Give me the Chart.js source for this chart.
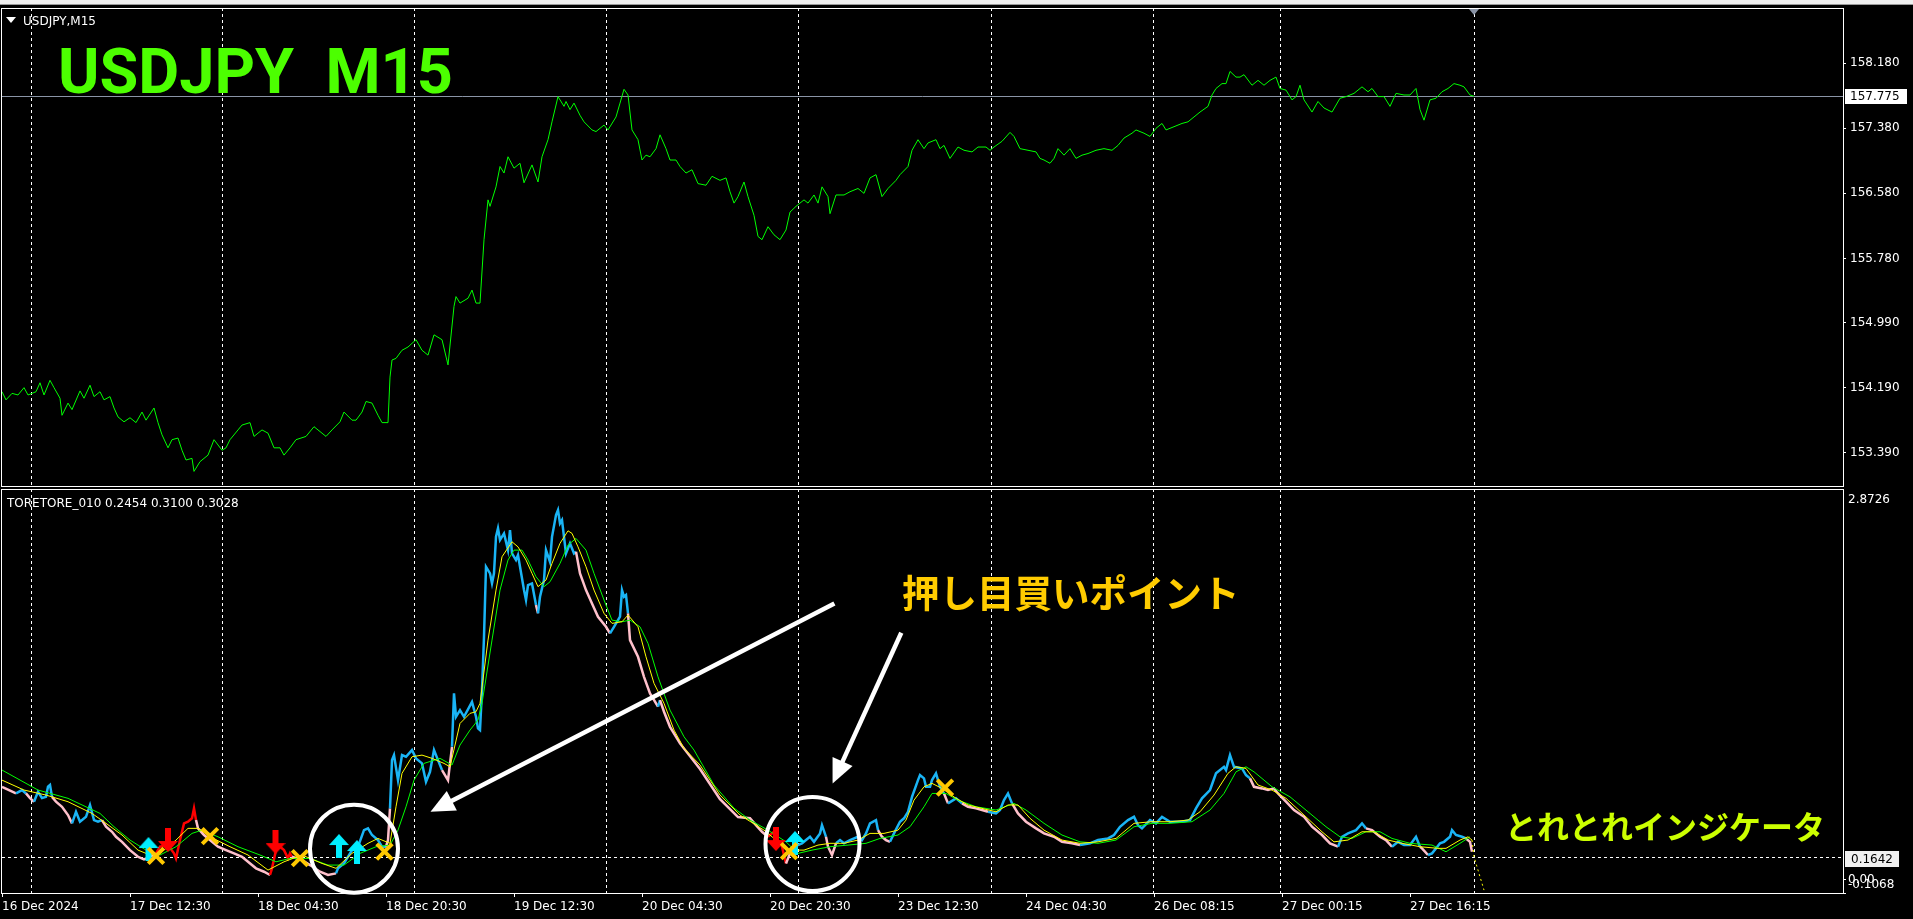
<!DOCTYPE html>
<html>
<head>
<meta charset="utf-8">
<script src="https://cdn.jsdelivr.net/npm/chart.js@4.4.1/dist/chart.umd.min.js"></script>
<style>
body { margin: 0; background: #000; overflow: hidden; }
#wrap { position: relative; width: 1913px; height: 919px; background: #000; }
#topbar { position: absolute; left: 0; top: 0; width: 1913px; height: 4px; background: #f0f0f0; border-bottom: 1px solid #9a9a9a; }
canvas { position: absolute; left: 0; }
.lbl { position: absolute; white-space: pre; line-height: 1; }
</style>
</head>
<body>
<div id="wrap">
    <div id="topbar"></div>
    <canvas id="priceChart" width="1913" height="490" style="top:0"></canvas>
    <canvas id="indChart" width="1913" height="431" style="top:488px"></canvas>

    <div style="position:absolute;left:6px;top:17px;width:0;height:0;border-left:5px solid transparent;border-right:5px solid transparent;border-top:6px solid #fff"></div>
    <div class="lbl" style="left:23px;top:14px;color:#fff;font:12px 'DejaVu Sans'">USDJPY,M15</div>
    <div class="lbl" style="left:58px;top:35px;color:#4cff00;font:bold 63px Roboto">USDJPY  M15</div>
    <div class="lbl" style="left:7px;top:496px;color:#fff;font:12px 'DejaVu Sans'">TORETORE_010 0.2454 0.3100 0.3028</div>
    <div class="lbl" style="left:902px;top:563px;color:#ffcc00;font:bold 37.5px 'Noto Sans CJK JP'">押し目買いポイント</div>
    <div class="lbl" style="left:1505px;top:802px;color:#ccff00;font:bold 32px 'Noto Sans CJK JP'">とれとれインジケータ</div>
</div>
<script>
// bar index -> date labels on the time axis (M15 bars)
const tickBars = [0, 64, 128, 192, 256, 320, 384, 448, 512, 576, 640, 704];
const tickLabels = ['16 Dec 2024', '17 Dec 12:30', '18 Dec 04:30', '18 Dec 20:30', '19 Dec 12:30', '20 Dec 04:30',
    '20 Dec 20:30', '23 Dec 12:30', '24 Dec 04:30', '26 Dec 08:15', '27 Dec 00:15', '27 Dec 16:15'];
const gridBars = [14.3, 110, 206, 302, 398, 494.5, 575.5, 639, 736];
const xMin = 0;
const xMax = 920.5;

// price panel
const priceTicks = [158.18, 157.38, 156.58, 155.78, 154.99, 154.19, 153.39];
const priceMin = 152.968;
const priceMax = 158.86;
const priceSeries = [
    [0,154.14],[2,154.04],[5,154.12],[8,154.10],[11,154.19],[13,154.10],[17,154.14],[19,154.25],[21,154.10],[24,154.28],
    [26,154.19],[29,154.06],[30,153.85],[33,154.00],[35,153.92],[39,154.15],[41,154.06],[44,154.22],[46,154.08],[49,154.14],
    [51,154.04],[54,154.08],[56,153.94],[58,153.83],[61,153.77],[64,153.82],[67,153.76],[70,153.89],[72,153.79],[76,153.94],
    [78,153.76],[80,153.61],[83,153.45],[85,153.55],[88,153.57],[90,153.42],[92,153.30],[95,153.32],[96,153.16],[99,153.28],
    [103,153.36],[106,153.55],[110,153.42],[112,153.45],[114,153.55],[118,153.67],[120,153.73],[124,153.76],[126,153.59],[130,153.67],
    [133,153.63],[136,153.45],[139,153.45],[141,153.36],[144,153.45],[147,153.55],[152,153.59],[156,153.71],[162,153.59],[165,153.67],
    [169,153.77],[171,153.89],[175,153.79],[177,153.79],[180,153.89],[182,154.02],[185,154.00],[188,153.85],[190,153.76],[193,153.76],
    [194,154.32],[195,154.53],[197,154.55],[200,154.65],[203,154.69],[207,154.78],[210,154.65],[213,154.59],[216,154.84],[220,154.78],
    [223,154.47],[226,155.19],[227,155.31],[229,155.23],[233,155.29],[235,155.39],[237,155.23],[239,155.23],[241,156.01],[243,156.50],
    [244,156.42],[247,156.66],[249,156.91],[251,156.83],[253,157.03],[256,156.89],[259,156.95],[261,156.71],[265,156.93],[268,156.72],
    [270,157.03],[273,157.24],[275,157.46],[278,157.77],[281,157.65],[282,157.71],[284,157.61],[286,157.69],[289,157.54],[291,157.46],
    [295,157.36],[297,157.34],[301,157.42],[303,157.36],[307,157.52],[309,157.69],[311,157.86],[313,157.79],[315,157.36],[318,157.24],
    [320,156.99],[322,157.05],[324,157.03],[327,157.13],[329,157.30],[332,157.13],[334,156.99],[337,156.99],[339,156.91],[342,156.83],
    [345,156.87],[348,156.70],[352,156.68],[355,156.79],[359,156.74],[362,156.77],[364,156.60],[366,156.46],[368,156.54],[371,156.72],
    [373,156.54],[376,156.31],[378,156.05],[380,156.01],[383,156.17],[386,156.07],[389,156.01],[392,156.13],[394,156.35],[397,156.42],
    [401,156.50],[403,156.46],[406,156.56],[408,156.46],[410,156.66],[413,156.54],[414,156.33],[417,156.56],[421,156.56],[424,156.60],
    [428,156.64],[431,156.58],[434,156.77],[437,156.81],[440,156.54],[443,156.64],[447,156.74],[449,156.81],[453,156.91],[455,157.11],
    [458,157.24],[461,157.13],[463,157.20],[467,157.24],[469,157.13],[471,157.17],[474,157.01],[478,157.15],[481,157.11],[485,157.09],
    [488,157.15],[492,157.15],[494,157.11],[496,157.15],[500,157.22],[504,157.33],[506,157.28],[509,157.13],[513,157.11],[517,157.09],
    [519,157.01],[521,156.99],[524,156.95],[526,157.01],[528,157.13],[531,157.05],[534,157.13],[537,157.01],[540,157.05],[543,157.07],
    [547,157.11],[551,157.13],[555,157.11],[558,157.17],[561,157.26],[565,157.32],[567,157.36],[571,157.32],[574,157.28],[577,157.38],
    [580,157.44],[582,157.36],[586,157.40],[590,157.44],[593,157.46],[596,157.52],[599,157.58],[603,157.65],[605,157.79],[607,157.87],
    [610,157.93],[612,157.93],[614,158.08],[617,158.01],[619,158.01],[621,158.04],[625,157.91],[628,157.97],[631,157.91],[634,157.97],
    [637,158.01],[639,157.87],[642,157.85],[645,157.73],[647,157.77],[649,157.91],[651,157.73],[655,157.58],[658,157.71],[661,157.63],
    [665,157.58],[669,157.75],[672,157.77],[676,157.81],[680,157.89],[683,157.83],[685,157.87],[688,157.77],[691,157.77],[694,157.65],
    [697,157.81],[701,157.79],[704,157.79],[707,157.87],[709,157.61],[711,157.48],[714,157.73],[717,157.75],[720,157.83],[723,157.87],
    [726,157.93],[729,157.91],[731,157.89],[734,157.79],[736,157.775]
];

// TORETORE indicator panel
const indMin = -0.1068;
const indMax = 2.8726;
const levelValue = 0.1642;
// main line: [bar, value, state]  b = rising (blue), p = falling (pink), r = sell zone (red)
const mainSeries = [
    [0,0.682,'p'],[7,0.633,'p'],[10,0.658,'b'],[12,0.633,'b'],[14,0.599,'p'],[16,0.572,'p'],[18,0.645,'b'],[20,0.599,'b'],[22,0.608,'b'],[23,0.682,'b'],
    [24,0.695,'b'],[25,0.608,'b'],[27,0.572,'p'],[30,0.535,'p'],[33,0.474,'p'],[35,0.413,'p'],[37,0.498,'b'],[39,0.425,'b'],[42,0.461,'b'],[44,0.548,'b'],
    [46,0.437,'b'],[48,0.425,'b'],[50,0.437,'b'],[52,0.388,'p'],[55,0.351,'p'],[57,0.314,'p'],[60,0.277,'p'],[64,0.216,'p'],[68,0.167,'p'],[71,0.148,'p'],
    [74,0.167,'p'],[77,0.192,'p'],[79,0.241,'r'],[83,0.253,'r'],[86,0.192,'r'],[87,0.155,'r'],[89,0.290,'r'],[91,0.413,'r'],[93,0.425,'r'],[95,0.450,'r'],
    [96,0.523,'r'],[97,0.437,'r'],[98,0.376,'p'],[101,0.327,'p'],[104,0.290,'p'],[108,0.241,'p'],[112,0.216,'p'],[116,0.192,'p'],[120,0.167,'p'],[123,0.130,'p'],
    [127,0.082,'p'],[131,0.057,'p'],[134,0.033,'p'],[135,0.082,'r'],[137,0.216,'r'],[139,0.241,'r'],[141,0.216,'r'],[143,0.155,'r'],[144,0.192,'r'],[145,0.167,'r'],
    [150,0.143,'p'],[154,0.106,'p'],[159,0.057,'p'],[163,0.033,'p'],[167,0.045,'p'],[168,0.082,'b'],[171,0.118,'b'],[175,0.216,'b'],[178,0.241,'b'],[181,0.363,'b'],
    [183,0.376,'b'],[185,0.327,'b'],[188,0.290,'b'],[190,0.241,'b'],[192,0.241,'b'],[193,0.290,'p'],[194,0.523,'p'],[195,0.878,'b'],[196,0.915,'b'],[198,0.731,'b'],
    [200,0.915,'b'],[202,0.903,'b'],[205,0.952,'b'],[207,0.891,'b'],[210,0.854,'b'],[212,0.719,'b'],[214,0.792,'b'],[216,0.952,'b'],[218,0.878,'b'],[220,0.805,'b'],
    [223,0.731,'p'],[225,0.976,'p'],[226,1.369,'b'],[227,1.197,'b'],[229,1.246,'b'],[231,1.197,'b'],[235,1.307,'b'],[237,1.197,'b'],[238,1.112,'b'],[239,1.099,'b'],
    [240,1.393,'b'],[241,1.786,'b'],[242,2.301,'b'],[244,2.252,'b'],[245,2.178,'b'],[246,2.252,'b'],[247,2.521,'b'],[248,2.583,'b'],[249,2.497,'b'],[251,2.546,'b'],
    [253,2.423,'b'],[254,2.570,'b'],[255,2.399,'b'],[257,2.350,'b'],[258,2.387,'b'],[261,2.129,'b'],[262,2.056,'b'],[263,2.166,'b'],[265,2.178,'b'],[267,2.019,'b'],
    [268,1.958,'p'],[269,2.080,'b'],[271,2.203,'b'],[272,2.423,'b'],[274,2.337,'b'],[275,2.521,'b'],[277,2.681,'b'],[278,2.718,'b'],[279,2.620,'b'],[280,2.644,'b'],
    [281,2.521,'b'],[282,2.399,'b'],[284,2.473,'b'],[286,2.399,'b'],[287,2.411,'b'],[289,2.252,'p'],[292,2.129,'p'],[295,2.031,'p'],[298,1.933,'p'],[302,1.859,'p'],
    [304,1.811,'p'],[306,1.859,'b'],[309,1.933,'b'],[310,2.129,'b'],[311,2.080,'b'],[312,2.093,'b'],[313,1.958,'b'],[314,1.761,'p'],[318,1.638,'p'],[321,1.491,'p'],
    [324,1.369,'p'],[328,1.271,'p'],[329,1.320,'b'],[331,1.234,'p'],[334,1.123,'p'],[339,1.001,'p'],[349,0.812,'p'],[359,0.591,'p'],[368,0.459,'p'],[374,0.450,'p'],
    [377,0.400,'p'],[380,0.351,'p'],[383,0.314,'p'],[386,0.351,'r'],[388,0.290,'r'],[390,0.241,'r'],[392,0.118,'r'],[394,0.192,'p'],[396,0.241,'b'],[400,0.266,'b'],
    [402,0.290,'b'],[404,0.314,'b'],[406,0.277,'b'],[409,0.339,'b'],[410,0.400,'b'],[412,0.314,'b'],[413,0.241,'p'],[415,0.180,'p'],[417,0.266,'p'],[419,0.290,'b'],
    [421,0.266,'b'],[424,0.290,'b'],[428,0.314,'b'],[430,0.290,'b'],[432,0.339,'b'],[434,0.413,'b'],[437,0.437,'b'],[438,0.363,'b'],[440,0.314,'p'],[442,0.290,'p'],
    [444,0.277,'p'],[446,0.339,'b'],[449,0.425,'b'],[451,0.450,'b'],[453,0.498,'b'],[455,0.608,'b'],[458,0.731,'b'],[459,0.768,'b'],[461,0.744,'b'],[462,0.682,'b'],
    [464,0.682,'b'],[465,0.731,'b'],[467,0.781,'b'],[469,0.682,'b'],[471,0.633,'b'],[473,0.560,'p'],[477,0.597,'b'],[480,0.560,'b'],[483,0.535,'p'],[487,0.523,'p'],
    [490,0.511,'p'],[493,0.498,'p'],[497,0.486,'b'],[499,0.511,'b'],[501,0.584,'b'],[503,0.633,'b'],[505,0.560,'b'],[508,0.486,'p'],[512,0.425,'p'],[517,0.376,'p'],
    [521,0.339,'p'],[526,0.314,'p'],[530,0.277,'p'],[535,0.266,'p'],[539,0.253,'p'],[544,0.266,'b'],[548,0.290,'b'],[553,0.302,'b'],[556,0.327,'b'],[559,0.388,'b'],
    [563,0.437,'b'],[566,0.461,'b'],[568,0.400,'b'],[570,0.376,'b'],[574,0.437,'b'],[577,0.413,'b'],[580,0.461,'b'],[584,0.425,'b'],[587,0.425,'b'],[590,0.425,'b'],
    [594,0.437,'b'],[597,0.523,'b'],[600,0.597,'b'],[604,0.658,'b'],[607,0.781,'b'],[611,0.829,'b'],[612,0.805,'b'],[614,0.915,'b'],[616,0.829,'b'],[620,0.817,'b'],
    [622,0.768,'b'],[624,0.744,'b'],[626,0.682,'p'],[630,0.670,'p'],[633,0.658,'p'],[636,0.670,'p'],[638,0.633,'p'],[642,0.572,'p'],[646,0.511,'p'],[651,0.461,'p'],
    [655,0.388,'p'],[660,0.327,'p'],[664,0.266,'p'],[668,0.241,'p'],[670,0.314,'b'],[673,0.339,'b'],[677,0.363,'b'],[680,0.413,'b'],[682,0.376,'b'],[685,0.363,'p'],
    [689,0.314,'p'],[692,0.290,'p'],[695,0.241,'p'],[698,0.277,'b'],[701,0.253,'b'],[704,0.253,'b'],[707,0.314,'b'],[709,0.241,'b'],[710,0.229,'p'],[713,0.180,'p'],
    [715,0.192,'b'],[717,0.229,'b'],[719,0.266,'b'],[721,0.277,'b'],[724,0.314,'b'],[725,0.363,'b'],[727,0.327,'b'],[730,0.314,'b'],[732,0.302,'b'],[734,0.277,'p'],
    [735,0.204,'p']
];
const fastSeries = [
    [0,0.731],[11,0.658],[22,0.621],[33,0.572],[45,0.486],[52,0.413],[60,0.327],[68,0.216],[74,0.180],[79,0.192],
    [87,0.290],[93,0.376],[98,0.376],[104,0.314],[114,0.241],[123,0.180],[133,0.069],[141,0.130],[150,0.180],[160,0.118],
    [167,0.082],[175,0.192],[183,0.266],[188,0.302],[194,0.266],[197,0.535],[200,0.781],[205,0.903],[210,0.915],[215,0.891],
    [221,0.854],[224,0.829],[229,1.148],[234,1.222],[237,1.234],[239,1.296],[243,1.761],[247,2.129],[250,2.374],[255,2.484],
    [258,2.447],[262,2.350],[265,2.252],[268,2.154],[272,2.203],[275,2.325],[279,2.473],[283,2.565],[285,2.546],[288,2.447],
    [292,2.301],[296,2.129],[301,1.958],[305,1.884],[310,1.896],[313,1.945],[318,1.859],[322,1.638],[326,1.443],[331,1.296],
    [336,1.099],[341,0.965],[349,0.842],[359,0.621],[369,0.474],[381,0.363],[387,0.290],[394,0.216],[401,0.216],[408,0.253],
    [414,0.266],[421,0.266],[428,0.290],[434,0.339],[441,0.339],[448,0.363],[452,0.437],[456,0.584],[461,0.682],[465,0.707],
    [470,0.670],[477,0.597],[483,0.548],[490,0.523],[497,0.498],[503,0.548],[508,0.548],[514,0.450],[521,0.363],[530,0.290],
    [539,0.266],[548,0.277],[557,0.302],[566,0.413],[575,0.425],[584,0.425],[593,0.437],[599,0.498],[606,0.621],[613,0.781],
    [617,0.829],[622,0.817],[628,0.695],[635,0.658],[642,0.597],[651,0.474],[660,0.351],[666,0.277],[673,0.290],[680,0.351],
    [686,0.351],[693,0.290],[700,0.266],[709,0.241],[718,0.229],[722,0.229],[729,0.290],[733,0.314],[735,0.290]
];
const fastTail = [[735,0.290],[736,0.167],[741,-0.078]];
const slowSeries = [
    [0,0.805],[18,0.658],[33,0.597],[49,0.486],[56,0.388],[64,0.290],[72,0.216],[79,0.180],[87,0.241],[95,0.339],
    [100,0.363],[108,0.314],[118,0.241],[129,0.180],[137,0.130],[144,0.155],[154,0.155],[163,0.106],[171,0.106],[179,0.192],
    [187,0.241],[194,0.253],[198,0.363],[202,0.535],[206,0.731],[211,0.854],[219,0.891],[225,0.842],[229,0.989],[234,1.099],
    [238,1.173],[240,1.296],[245,1.761],[249,2.129],[253,2.350],[256,2.423],[260,2.423],[263,2.350],[267,2.227],[271,2.154],
    [274,2.190],[279,2.325],[283,2.460],[287,2.509],[292,2.423],[296,2.252],[301,2.056],[305,1.908],[310,1.896],[314,1.908],
    [319,1.859],[323,1.737],[328,1.491],[334,1.246],[341,1.050],[346,0.952],[356,0.695],[366,0.525],[374,0.437],[383,0.363],
    [392,0.277],[398,0.192],[405,0.216],[414,0.241],[423,0.253],[432,0.266],[439,0.302],[448,0.327],[454,0.388],[461,0.535],
    [465,0.633],[472,0.633],[478,0.584],[487,0.535],[497,0.511],[506,0.560],[512,0.511],[521,0.413],[530,0.327],[539,0.277],
    [548,0.266],[557,0.290],[566,0.388],[575,0.413],[584,0.413],[595,0.425],[604,0.511],[611,0.633],[617,0.792],[622,0.829],
    [626,0.792],[635,0.682],[644,0.608],[653,0.498],[662,0.388],[669,0.314],[675,0.302],[682,0.351],[689,0.351],[695,0.302],
    [704,0.266],[715,0.253],[722,0.204],[729,0.266],[734,0.314]
];
const buySignals = [[73.25,0.224],[168.5,0.246],[177.5,0.202],[396.5,0.268]];
const sellSignals = [[83,0.290],[136.75,0.275],[387,0.297]];
const exitSignals = [[77,0.174],[104,0.319],[149,0.157],[191.25,0.205],[393.5,0.209],[471.5,0.676]];

// annotations, anchored to bar/value
const noteCircles = [{bar: 176, val: 0.227, r: 44}, {bar: 405.25, val: 0.261, r: 47}];
const noteArrows = [
    {from: [416.2, 2.031], to: [214.25, 0.498]},
    {from: [449.65, 1.815], to: [415.3, 0.707]}
];

const axisFont = {family: 'DejaVu Sans', size: 12};
const stateColors = {b: '#1ab4f5', p: '#ffc0cb', r: '#ff0000'};

function toXY(rows) {
    return rows.map(r => ({x: r[0], y: r[1]}));
}

function noPadding(s) {
    s.paddingLeft = 0;
    s.paddingRight = 0;
    s.paddingTop = 0;
    s.paddingBottom = 0;
}

function makeArrow(color, up) {
    const w = 20, h = 24;
    const c = document.createElement('canvas');
    c.width = w;
    c.height = h;
    const g = c.getContext('2d');
    g.fillStyle = color;
    g.beginPath();
    const pts = [[10,0],[20,11],[13,11],[13,24],[7,24],[7,11],[0,11]];
    pts.forEach(([px, py], i) => {
        const yy = up ? py : h - py;
        if (i) g.lineTo(px, yy); else g.moveTo(px, yy);
    });
    g.closePath();
    g.fill();
    return c;
}

function drawGrid(chart) {
    const {ctx, chartArea: a, scales: {x}} = chart;
    ctx.save();
    ctx.strokeStyle = '#ffffff';
    ctx.lineWidth = 1;
    ctx.setLineDash([3, 3]);
    gridBars.forEach(b => {
        const px = Math.round(x.getPixelForValue(b)) + 0.5;
        ctx.beginPath();
        ctx.moveTo(px, a.top);
        ctx.lineTo(px, a.bottom);
        ctx.stroke();
    });
    ctx.restore();
}

function drawFrame(chart) {
    const {ctx, chartArea: a} = chart;
    ctx.save();
    ctx.strokeStyle = '#ffffff';
    ctx.lineWidth = 1;
    ctx.strokeRect(Math.round(a.left) - 0.5, Math.round(a.top) + 0.5,
        Math.round(a.right - a.left) + 1, Math.round(a.bottom - a.top) - 1);
    ctx.restore();
}

const pricePanel = {
    id: 'pricePanel',
    beforeDatasetsDraw(chart) {
        const {ctx, chartArea: a, scales: {y}} = chart;
        drawGrid(chart);
        const last = priceSeries[priceSeries.length - 1][1];
        const py = Math.round(y.getPixelForValue(last)) + 0.5;
        ctx.save();
        ctx.strokeStyle = '#8a94a6';
        ctx.beginPath();
        ctx.moveTo(a.left, py);
        ctx.lineTo(a.right, py);
        ctx.stroke();
        ctx.restore();
    },
    afterDraw(chart) {
        const {ctx, chartArea: a, scales: {x, y}} = chart;
        drawFrame(chart);
        const last = priceSeries[priceSeries.length - 1];
        const py = y.getPixelForValue(last[1]);
        ctx.save();
        ctx.fillStyle = '#ffffff';
        ctx.fillRect(a.right + 2, Math.round(py) - 7, 62, 15);
        ctx.fillStyle = '#000000';
        ctx.font = '12px "DejaVu Sans"';
        ctx.textBaseline = 'middle';
        ctx.fillText(last[1].toFixed(3), a.right + 7, Math.round(py) + 1);
        // chart shift marker
        const sx = x.getPixelForValue(last[0]);
        ctx.fillStyle = '#8a94a6';
        ctx.beginPath();
        ctx.moveTo(sx - 5, a.top + 1);
        ctx.lineTo(sx + 5, a.top + 1);
        ctx.lineTo(sx, a.top + 7);
        ctx.closePath();
        ctx.fill();
        ctx.restore();
    }
};

const indPanel = {
    id: 'indPanel',
    beforeDatasetsDraw(chart) {
        const {ctx, chartArea: a, scales: {y}} = chart;
        drawGrid(chart);
        const ly = Math.round(y.getPixelForValue(levelValue)) + 0.5;
        ctx.save();
        ctx.strokeStyle = '#ffffff';
        ctx.setLineDash([3, 3]);
        ctx.beginPath();
        ctx.moveTo(a.left, ly);
        ctx.lineTo(a.right, ly);
        ctx.stroke();
        ctx.restore();
    },
    afterDatasetsDraw(chart) {
        const {ctx, scales: {x, y}} = chart;
        ctx.save();
        ctx.strokeStyle = '#ffffff';
        ctx.fillStyle = '#ffffff';
        ctx.lineWidth = 4;
        noteCircles.forEach(c => {
            ctx.beginPath();
            ctx.arc(x.getPixelForValue(c.bar), y.getPixelForValue(c.val), c.r, 0, Math.PI * 2);
            ctx.stroke();
        });
        noteArrows.forEach(ar => {
            const x0 = x.getPixelForValue(ar.from[0]), y0 = y.getPixelForValue(ar.from[1]);
            const x1 = x.getPixelForValue(ar.to[0]), y1 = y.getPixelForValue(ar.to[1]);
            const len = Math.hypot(x1 - x0, y1 - y0);
            const ux = (x1 - x0) / len, uy = (y1 - y0) / len;
            const hl = 24, hw = 11;
            const bx = x1 - ux * hl, by = y1 - uy * hl;
            ctx.lineWidth = 4.5;
            ctx.beginPath();
            ctx.moveTo(x0, y0);
            ctx.lineTo(bx + ux * 2, by + uy * 2);
            ctx.stroke();
            ctx.beginPath();
            ctx.moveTo(x1, y1);
            ctx.lineTo(bx - uy * hw, by + ux * hw);
            ctx.lineTo(bx + uy * hw, by - ux * hw);
            ctx.closePath();
            ctx.fill();
        });
        ctx.restore();
    },
    afterDraw(chart) {
        const {ctx, chartArea: a, scales: {y}} = chart;
        drawFrame(chart);
        ctx.save();
        ctx.font = '12px "DejaVu Sans"';
        ctx.textBaseline = 'middle';
        ctx.fillStyle = '#ffffff';
        ctx.fillText(indMax.toFixed(4), a.right + 5, a.top + 11);
        const ly = Math.round(y.getPixelForValue(levelValue));
        ctx.fillStyle = '#f0f0f0';
        ctx.fillRect(a.right + 2, ly - 6, 54, 16);
        ctx.fillStyle = '#000000';
        ctx.fillText(levelValue.toFixed(4), a.right + 8, ly + 3);
        ctx.fillStyle = '#ffffff';
        const zy = y.getPixelForValue(0);
        ctx.fillText('0.00', a.right + 5, zy);
        ctx.fillText(indMin.toFixed(4), a.right + 5, a.bottom - 9);
        ctx.strokeStyle = '#ffffff';
        ctx.lineWidth = 1;
        ctx.beginPath();
        ctx.moveTo(a.right, Math.round(zy) + 0.5);
        ctx.lineTo(a.right + 3, Math.round(zy) + 0.5);
        ctx.moveTo(a.right, Math.round(a.bottom) - 0.5);
        ctx.lineTo(a.right + 3, Math.round(a.bottom) - 0.5);
        ctx.stroke();
        ctx.restore();
    }
};

new Chart(document.getElementById('priceChart'), {
    type: 'line',
    plugins: [pricePanel],
    data: {
        datasets: [{
            data: toXY(priceSeries),
            borderColor: '#00ff00',
            borderWidth: 1,
            pointRadius: 0,
            tension: 0
        }]
    },
    options: {
        responsive: false,
        animation: false,
        events: [],
        layout: {autoPadding: false, padding: {left: 2, top: 8, bottom: 3, right: 0}},
        plugins: {legend: {display: false}, tooltip: {enabled: false}},
        scales: {
            x: {type: 'linear', min: xMin, max: xMax, display: false},
            y: {
                position: 'right',
                min: priceMin,
                max: priceMax,
                afterBuildTicks: s => { s.ticks = priceTicks.map(v => ({value: v})); },
                afterFit: s => { s.width = 70; noPadding(s); },
                ticks: {color: '#ffffff', font: axisFont, padding: 4, callback: v => v.toFixed(3)},
                grid: {drawOnChartArea: false, drawTicks: true, tickLength: 3, color: '#ffffff'},
                border: {display: false}
            }
        }
    }
});

new Chart(document.getElementById('indChart'), {
    type: 'line',
    plugins: [indPanel],
    data: {
        datasets: [
            {
                data: toXY(exitSignals),
                showLine: false,
                pointStyle: 'crossRot',
                pointRadius: 11,
                pointBorderWidth: 4,
                pointBorderColor: '#ffc800',
                order: 0
            },
            {
                data: toXY(buySignals),
                showLine: false,
                pointStyle: makeArrow('#00eeff', true),
                order: 1
            },
            {
                data: toXY(sellSignals),
                showLine: false,
                pointStyle: makeArrow('#ff0000', false),
                order: 1
            },
            {
                data: toXY(fastSeries),
                borderColor: '#ffff00',
                borderWidth: 1,
                pointRadius: 0,
                tension: 0,
                order: 2
            },
            {
                data: toXY(fastTail),
                borderColor: '#ffff00',
                borderWidth: 1,
                borderDash: [2, 3],
                pointRadius: 0,
                tension: 0,
                order: 2
            },
            {
                data: toXY(slowSeries),
                borderColor: '#00ff00',
                borderWidth: 1,
                pointRadius: 0,
                tension: 0,
                order: 3
            },
            {
                data: toXY(mainSeries),
                borderColor: '#1ab4f5',
                borderWidth: 2.5,
                pointRadius: 0,
                tension: 0,
                segment: {
                    borderColor: ctx => stateColors[mainSeries[ctx.p1DataIndex][2]]
                },
                order: 4
            }
        ]
    },
    options: {
        responsive: false,
        animation: false,
        events: [],
        layout: {autoPadding: false, padding: {left: 2, top: 1, bottom: 0, right: 0}},
        plugins: {legend: {display: false}, tooltip: {enabled: false}},
        scales: {
            x: {
                type: 'linear',
                min: xMin,
                max: xMax,
                afterBuildTicks: s => { s.ticks = tickBars.map(v => ({value: v})); },
                afterFit: s => { s.height = 25; noPadding(s); },
                ticks: {
                    color: '#ffffff',
                    font: axisFont,
                    align: 'start',
                    padding: 3,
                    autoSkip: false,
                    maxRotation: 0,
                    callback: (v, i) => tickLabels[i]
                },
                grid: {drawOnChartArea: false, drawTicks: true, tickLength: 3, color: '#ffffff'},
                border: {display: false}
            },
            y: {
                position: 'right',
                min: indMin,
                max: indMax,
                afterFit: s => { s.width = 70; noPadding(s); },
                ticks: {display: false},
                grid: {display: false},
                border: {display: false}
            }
        }
    }
});
</script>
</body>
</html>
